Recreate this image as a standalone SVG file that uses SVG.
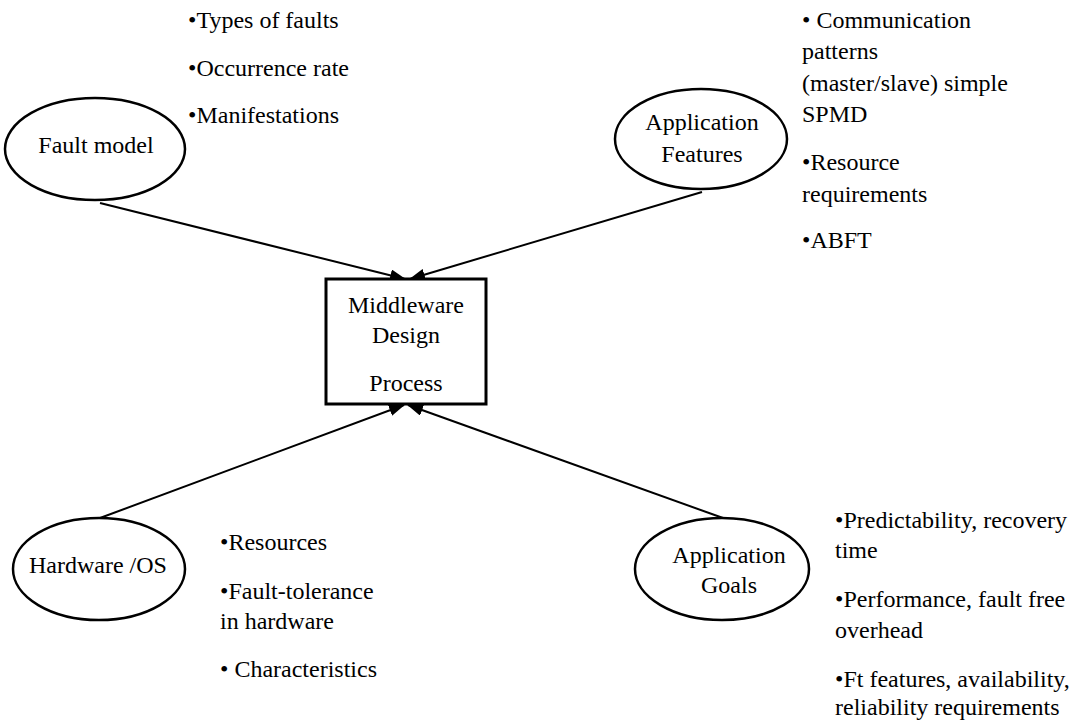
<svg xmlns="http://www.w3.org/2000/svg" width="1087" height="725" viewBox="0 0 1087 725" font-family="'Liberation Serif', 'Times New Roman', Times, 'DejaVu Serif', serif">
  <style>
    text { font-family: 'Liberation Serif', 'Times New Roman', Times, 'DejaVu Serif', serif; font-size: 24px; fill: #000; }
    .c { text-anchor: middle; }
    .node { fill: #fff; stroke: #000; stroke-width: 2.5; }
    .edge { stroke: #000; stroke-width: 2; fill: none; marker-end: url(#arrow); }
  </style>
  <defs>
    <marker id="arrow" markerUnits="userSpaceOnUse" markerWidth="16" markerHeight="12" refX="15" refY="6" orient="auto">
      <path d="M0,0 L16,6 L0,12 Z" fill="#000"/>
    </marker>
  </defs>

  <rect width="1087" height="725" fill="#fff"/>

  <!-- connectors -->
  <g id="connectors">
    <line class="edge" x1="100" y1="203" x2="405" y2="279"/>
    <line class="edge" x1="702" y1="192" x2="410" y2="279"/>
    <line class="edge" x1="100" y1="518" x2="404" y2="405"/>
    <line class="edge" x1="723" y1="518" x2="408" y2="405"/>
  </g>

  <!-- central process box -->
  <g id="middleware">
    <rect x="326" y="279" width="160" height="125" fill="#fff" stroke="#000" stroke-width="3"/>
    <text class="c" x="406" y="313">Middleware</text>
    <text class="c" x="406" y="343">Design</text>
    <text class="c" x="406" y="391">Process</text>
  </g>

  <g id="fault-model">
    <ellipse class="node" cx="95" cy="149" rx="90" ry="51"/>
    <text class="c" x="96" y="153">Fault model</text>
  </g>
  <g id="fault-model-notes">
    <text x="188" y="28">•Types of faults</text>
    <text x="188" y="76">•Occurrence rate</text>
    <text x="188" y="123">•Manifestations</text>
  </g>

  <g id="application-features">
    <ellipse class="node" cx="701" cy="139" rx="86" ry="50"/>
    <text class="c" x="702" y="130">Application</text>
    <text class="c" x="702" y="162">Features</text>
  </g>
  <g id="application-features-notes">
    <text x="802" y="28">• Communication</text>
    <text x="802" y="59">patterns</text>
    <text x="802" y="91">(master/slave) simple</text>
    <text x="802" y="122">SPMD</text>
    <text x="802" y="170">•Resource</text>
    <text x="802" y="202">requirements</text>
    <text x="802" y="248">•ABFT</text>
  </g>

  <g id="hardware-os">
    <ellipse class="node" cx="99" cy="569" rx="86" ry="51"/>
    <text class="c" x="98" y="573">Hardware /OS</text>
  </g>
  <g id="hardware-os-notes">
    <text x="220" y="550">•Resources</text>
    <text x="220" y="599">•Fault-tolerance</text>
    <text x="220" y="629">in hardware</text>
    <text x="220" y="677">• Characteristics</text>
  </g>

  <g id="application-goals">
    <ellipse class="node" cx="722" cy="569" rx="87" ry="51"/>
    <text class="c" x="729" y="563">Application</text>
    <text class="c" x="729" y="593">Goals</text>
  </g>
  <g id="application-goals-notes">
    <text x="835" y="528">•Predictability, recovery</text>
    <text x="835" y="558">time</text>
    <text x="835" y="607">•Performance, fault free</text>
    <text x="835" y="638">overhead</text>
    <text x="835" y="687">•Ft features, availability,</text>
    <text x="835" y="715">reliability requirements</text>
  </g>
</svg>
